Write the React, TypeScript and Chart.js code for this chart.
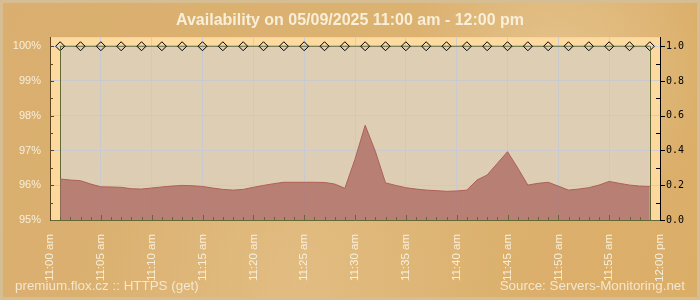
import React, { useEffect, useRef } from "react";
import { Chart, registerables } from "chart.js";

Chart.register(...registerables);

// ---------- data ----------
const TITLE = "Availability on 05/09/2025 11:00 am - 12:00 pm";
const FOOTER_LEFT = "premium.flox.cz :: HTTPS (get)";
const FOOTER_RIGHT = "Source: Servers-Monitoring.net";

// x tick labels every 5 minutes (11:00 am .. 12:00 pm)
const xTickLabels = [
  "11:00 am", "11:05 am", "11:10 am", "11:15 am", "11:20 am", "11:25 am", "11:30 am",
  "11:35 am", "11:40 am", "11:45 am", "11:50 am", "11:55 am", "12:00 pm",
];

// response time samples (minutes after 11:00, seconds on the right axis)
const responseMinutes = [
  1, 2, 3, 4, 5, 6, 7, 8, 9, 10, 11, 12, 13, 14, 15, 16, 17, 18, 19, 20,
  21, 22, 23, 24, 25, 26, 27, 28, 29, 30, 31, 32, 33, 34, 35, 36, 37, 38, 39, 40,
  41, 42, 43, 44, 45, 46, 47, 48, 49, 50, 51, 52, 53, 54, 55, 56, 57, 58, 59,
];
const responseTimes = [
  0.236, 0.230, 0.226, 0.207, 0.191, 0.190, 0.188, 0.180, 0.178, 0.184,
  0.190, 0.195, 0.199, 0.197, 0.193, 0.184, 0.176, 0.172, 0.176, 0.188,
  0.199, 0.209, 0.217, 0.217, 0.217, 0.217, 0.216, 0.207, 0.182, 0.350,
  0.545, 0.395, 0.214, 0.199, 0.186, 0.178, 0.172, 0.169, 0.165, 0.167,
  0.172, 0.230, 0.259, 0.326, 0.393, 0.300, 0.201, 0.211, 0.217, 0.195,
  0.172, 0.178, 0.186, 0.201, 0.222, 0.211, 0.201, 0.195, 0.193,
];

// availability checks (minutes after 11:00, percent on the left axis)
const availabilityMinutes = [
  1, 3, 5, 7, 9, 11, 13, 15, 17, 19, 21, 23, 25, 27, 29,
  31, 33, 35, 37, 39, 41, 43, 45, 47, 49, 51, 53, 55, 57, 59,
];
const availabilityValues = [
  100, 100, 100, 100, 100, 100, 100, 100, 100, 100, 100, 100, 100, 100, 100,
  100, 100, 100, 100, 100, 100, 100, 100, 100, 100, 100, 100, 100, 100, 100,
];

// ---------- styles ----------
const CREAM = "rgba(250,242,222,0.95)";
const GRID = "rgba(205,205,214,1)";
const AXIS_BROWN = "rgb(95,70,30)";
const OLIVE = "rgb(100,104,52)";
const SANS = "'Liberation Sans', Arial, sans-serif";

const decorPlugin = {
  id: "decor",
  beforeDraw(chart: any) {
    const { ctx, width, height, chartArea: ca } = chart;
    ctx.save();
    const g = ctx.createLinearGradient(0, 0, width, height);
    g.addColorStop(0, "rgb(217,174,110)");
    g.addColorStop(0.5, "rgb(220,178,113)");
    g.addColorStop(1, "rgb(219,174,104)");
    ctx.fillStyle = g;
    ctx.fillRect(0, 0, width, height);
    // soft light swirls
    const r1 = ctx.createRadialGradient(560, 70, 5, 560, 70, 150);
    r1.addColorStop(0, "rgba(255,245,225,0.26)");
    r1.addColorStop(1, "rgba(255,245,225,0)");
    ctx.fillStyle = r1;
    ctx.fillRect(0, 0, width, height);
    const r2 = ctx.createRadialGradient(300, 280, 5, 300, 280, 220);
    r2.addColorStop(0, "rgba(255,240,215,0.16)");
    r2.addColorStop(1, "rgba(255,240,215,0)");
    ctx.fillStyle = r2;
    ctx.fillRect(0, 0, width, height);
    // frame
    ctx.strokeStyle = "rgb(214,190,146)";
    ctx.lineWidth = 3;
    ctx.strokeRect(1.5, 1.5, width - 3, height - 3);
    // chart area background
    const g2 = ctx.createLinearGradient(0, ca.top, 0, ca.bottom);
    g2.addColorStop(0, "rgb(253,218,160)");
    g2.addColorStop(1, "rgb(252,216,156)");
    ctx.fillStyle = g2;
    ctx.fillRect(ca.left, ca.top, ca.right - ca.left, ca.bottom - ca.top);
    ctx.restore();
  },
  afterDatasetDraw(chart: any, args: any) {
    if (args.index !== 0) return;
    const { ctx, chartArea: ca } = chart;
    const pts = args.meta.data;
    if (!pts.length) return;
    ctx.save();
    ctx.strokeStyle = OLIVE;
    ctx.lineWidth = 1;
    [pts[0], pts[pts.length - 1]].forEach((p: any) => {
      const px = Math.round(p.x) + 0.5;
      ctx.beginPath();
      ctx.moveTo(px, p.y);
      ctx.lineTo(px, ca.bottom);
      ctx.stroke();
    });
    ctx.restore();
  },
  afterDraw(chart: any) {
    const { ctx, chartArea: ca, scales, width } = chart;
    const { x, y, y1 } = scales;
    ctx.save();
    ctx.lineWidth = 1;
    // bottom minute ticks (inward)
    ctx.strokeStyle = OLIVE;
    for (let m = x.min + 1; m < x.max; m += 1) {
      const px = Math.round(x.getPixelForValue(m)) + 0.5;
      const len = m % 5 === 0 ? 5 : 3;
      ctx.beginPath();
      ctx.moveTo(px, ca.bottom);
      ctx.lineTo(px, ca.bottom - len);
      ctx.stroke();
    }
    // left axis ticks (inward)
    ctx.strokeStyle = AXIS_BROWN;
    for (let v = 95.5; v <= 100; v += 0.5) {
      const py = Math.round(y.getPixelForValue(v)) + 0.5;
      const len = Number.isInteger(v) ? 4 : 3;
      ctx.beginPath();
      ctx.moveTo(ca.left, py);
      ctx.lineTo(ca.left + len, py);
      ctx.stroke();
    }
    // right axis ticks
    ctx.strokeStyle = "#000";
    for (let i = 0; i <= 10; i++) {
      const v = i / 10;
      const py = Math.round(y1.getPixelForValue(v)) + 0.5;
      ctx.beginPath();
      if (i % 2 === 0) {
        ctx.moveTo(ca.right, py);
        ctx.lineTo(ca.right + 5, py);
      } else {
        ctx.moveTo(ca.right, py);
        ctx.lineTo(ca.right - 4, py);
      }
      ctx.stroke();
    }
    // footer texts
    ctx.font = `13.4px ${SANS}`;
    ctx.fillStyle = "rgba(250,242,225,0.82)";
    ctx.textBaseline = "middle";
    ctx.textAlign = "left";
    ctx.fillText(FOOTER_LEFT, 15, 286);
    ctx.textAlign = "right";
    ctx.fillText(FOOTER_RIGHT, width - 15, 286);
    ctx.restore();
  },
};

export default function App() {
  const ref = useRef<HTMLCanvasElement | null>(null);

  useEffect(() => {
    document.body.style.margin = "0";
    if (!ref.current) return;
    const chart = new Chart(ref.current, {
      type: "line",
      data: {
        datasets: [
          {
            label: "Availability",
            data: availabilityMinutes.map((m, i) => ({ x: m, y: availabilityValues[i] })),
            yAxisID: "y",
            order: 2,
            borderColor: OLIVE,
            borderWidth: 1,
            backgroundColor: "rgba(200,198,195,0.6)",
            fill: "start",
            tension: 0,
            pointStyle: "rectRot",
            pointRadius: 4.5,
            pointBorderColor: "#000",
            pointBorderWidth: 1,
            pointBackgroundColor: "rgba(0,0,0,0)",
          },
          {
            label: "Response time",
            data: responseMinutes.map((m, i) => ({ x: m, y: responseTimes[i] })),
            yAxisID: "y1",
            order: 1,
            borderColor: "rgb(176,96,86)",
            borderWidth: 1,
            backgroundColor: "rgba(176,111,103,0.82)",
            fill: "start",
            tension: 0,
            pointRadius: 0,
          },
        ],
      },
      plugins: [decorPlugin],
      options: {
        responsive: false,
        animation: false,
        devicePixelRatio: 1,
        layout: { padding: 0 },
        plugins: {
          legend: { display: false },
          tooltip: { enabled: false },
          title: {
            display: true,
            text: TITLE,
            color: "rgba(250,242,222,0.95)",
            font: { family: SANS, size: 16, weight: "bold" },
            padding: { top: 11, bottom: 7 },
          },
        },
        scales: {
          x: {
            type: "linear",
            position: "bottom",
            min: 0,
            max: 60,
            afterFit: (s: any) => { s.height = 80; },
            ticks: {
              stepSize: 5,
              autoSkip: false,
              minRotation: 90,
              maxRotation: 90,
              padding: 14,
              color: CREAM,
              font: { family: SANS, size: 11.5 },
              callback: (_v: any, i: number) => xTickLabels[i],
            },
            grid: { color: GRID, drawTicks: false },
            border: { color: OLIVE, z: 1 },
          },
          y: {
            position: "left",
            min: 95,
            max: 100.26,
            afterFit: (s: any) => { s.width = 50; },
            ticks: {
              stepSize: 1,
              includeBounds: false,
              padding: 9,
              color: CREAM,
              font: { family: SANS, size: 11 },
              callback: (v: any) => `${v}%`,
            },
            grid: { color: GRID, drawTicks: false },
            border: { color: AXIS_BROWN, z: 1 },
          },
          y1: {
            position: "right",
            min: 0,
            max: 1.052,
            afterFit: (s: any) => { s.width = 40; },
            ticks: {
              stepSize: 0.2,
              includeBounds: false,
              padding: 6,
              color: "#000",
              font: { family: "'DejaVu Sans Mono', monospace", size: 10 },
              callback: (v: any) => Number(v).toFixed(1),
            },
            grid: { drawOnChartArea: false, drawTicks: false },
            border: { color: "#000", z: 1 },
          },
        },
      } as any,
    });
    return () => chart.destroy();
  }, []);

  return (
    <div style={{ width: 700, height: 300 }}>
      <canvas ref={ref} width={700} height={300} style={{ display: "block" }} />
    </div>
  );
}
